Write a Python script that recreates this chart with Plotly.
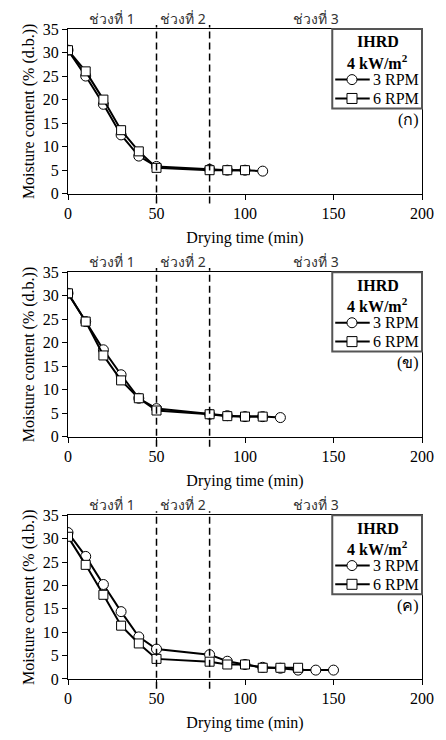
import plotly.graph_objects as go

# ---------------- data ----------------
t_a3 = [0, 10, 20, 30, 40, 50, 80, 90, 100, 110]
mc_a3 = [30.5, 25.0, 19.0, 12.5, 8.0, 5.8, 5.2, 5.0, 5.0, 4.8]
t_a6 = [0, 10, 20, 30, 40, 50, 80, 90, 100]
mc_a6 = [30.5, 26.0, 20.0, 13.5, 9.0, 5.5, 5.0, 5.0, 5.0]

t_b3 = [0, 10, 20, 30, 40, 50, 80, 90, 100, 110, 120]
mc_b3 = [30.5, 24.5, 18.5, 13.2, 8.2, 6.0, 4.8, 4.5, 4.3, 4.3, 4.1]
t_b6 = [0, 10, 20, 30, 40, 50, 80, 90, 100, 110]
mc_b6 = [30.5, 24.5, 17.3, 12.0, 8.2, 5.6, 4.8, 4.4, 4.3, 4.3]

t_c3 = [0, 10, 20, 30, 40, 50, 80, 90, 100, 110, 120, 130, 140, 150]
mc_c3 = [31.3, 26.2, 20.2, 14.4, 9.0, 6.4, 5.2, 3.8, 3.1, 2.5, 2.3, 1.9, 1.9, 1.9]
t_c6 = [0, 10, 20, 30, 40, 50, 80, 90, 100, 110, 120, 130]
mc_c6 = [30.4, 24.4, 18.0, 11.4, 7.6, 4.3, 3.7, 3.1, 3.1, 2.4, 2.4, 2.4]

series_names = ["3 RPM", "6 RPM"]
legend_title = ["<b>IHRD</b>", "<b>4 kW/m<sup>2</sup></b>"]
panel_labels = ["(ก)", "(ข)", "(ค)"]
phase_labels = ["ช่วงที่ 1", "ช่วงที่ 2", "ช่วงที่ 3"]
phase_x = [25, 65, 140]
phase_bounds = [50, 80]
x_ticks = [0, 50, 100, 150, 200]
y_ticks = [0, 5, 10, 15, 20, 25, 30, 35]

panels = [
    (t_a3, mc_a3, t_a6, mc_a6),
    (t_b3, mc_b3, t_b6, mc_b6),
    (t_c3, mc_c3, t_c6, mc_c6),
]

# ---------------- layout geometry ----------------
# page body has an 8px margin, so the figure is offset by 8px
OFF = 8
W, H = 446 - OFF, 740 - OFF
ml, mr, mt, mb = 68 - OFF, 19, 29 - OFF, 56
ph = H - mt - mb
tops_px = [29, 274, 519]
panel_h = 166
domains = []
for tp in tops_px:
    top = 1 - (tp - OFF - mt) / ph
    bot = 1 - (tp - OFF + panel_h - mt) / ph
    domains.append([max(bot, 0), min(top, 1)])

SERIF = "Liberation Serif, Times New Roman, serif"
FS = 16
fig = go.Figure()

def fy(d):
    """pixel offset below panel top -> y domain fraction"""
    return 1 - d / panel_h

def fx(px):
    return (px - 68) / 359.0

symbols = ["circle", "square"]
for i, (t3, m3, t6, m6) in enumerate(panels):
    n = "" if i == 0 else str(i + 1)
    xa = "x" + n
    ya = "y" + n
    for (tt, mm), sym, nm in zip([(t3, m3), (t6, m6)], symbols, series_names):
        fig.add_trace(go.Scatter(
            x=tt, y=mm, mode="lines+markers", name=nm, showlegend=False,
            line=dict(color="black", width=2),
            marker=dict(symbol=sym, size=10 if sym == "circle" else 9,
                        color="white", line=dict(color="black", width=1)),
            xaxis=xa, yaxis=ya))

    axis_common = dict(showline=True, linecolor="black", linewidth=1,
                       mirror=True, showgrid=False, zeroline=False,
                       ticks="outside", ticklen=5, tickcolor="black",
                       tickfont=dict(family=SERIF, size=FS, color="black"))
    fig.layout["xaxis" + n] = dict(
        axis_common, domain=[0, 1], range=[0, 200], tickvals=x_ticks,
        anchor=ya,
        title=dict(text="Drying time (min)",
                   font=dict(family=SERIF, size=FS, color="black"),
                   standoff=10))
    fig.layout["yaxis" + n] = dict(
        axis_common, domain=domains[i], range=[0, 35], tickvals=y_ticks,
        anchor=xa,
        title=dict(text="Moisture content (% (d.b.))",
                   font=dict(family=SERIF, size=FS, color="black"),
                   standoff=4))

    xd, yd = xa + " domain", ya + " domain"
    # phase boundaries
    for xb in phase_bounds:
        fig.add_shape(type="line", xref=xa, yref=yd,
                      x0=xb, x1=xb, y0=-0.06, y1=1.025,
                      line=dict(color="black", width=1.5, dash="7px,4px"))
    # phase labels
    for lbl, px in zip(phase_labels, phase_x):
        fig.add_annotation(text=lbl, x=px, y=1.0, xref=xa, yref=yd,
                           xanchor="center", yanchor="bottom",
                           showarrow=False, yshift=-1,
                           font=dict(family="Noto Sans, sans-serif", size=14,
                                     color="#333333"))

    # custom legend box
    fig.add_shape(type="rect", xref=xd, yref=yd, x0=fx(336), x1=1.0,
                  y0=fy(80), y1=1.0, fillcolor="white",
                  line=dict(color="#555555", width=2))
    for txt, d in zip(legend_title, [13, 33]):
        fig.add_annotation(text=txt, x=fx(382), y=fy(d), xref=xd, yref=yd,
                           xanchor="center", yanchor="middle",
                           showarrow=False,
                           font=dict(family=SERIF, size=FS, color="black"))
    for nm, sym, d in zip(series_names, symbols, [51, 70]):
        fig.add_shape(type="line", xref=xd, yref=yd, x0=fx(339), x1=fx(374),
                      y0=fy(d), y1=fy(d), line=dict(color="black", width=2))
        fig.add_shape(type="circle" if sym == "circle" else "rect",
                      xref=xd, yref=yd, xsizemode="pixel", ysizemode="pixel",
                      xanchor=fx(356), yanchor=fy(d), x0=-5, x1=5, y0=-5, y1=5,
                      fillcolor="white", line=dict(color="black", width=1))
        fig.add_annotation(text=nm, x=0.997, y=fy(d), xref=xd, yref=yd,
                           xanchor="right", yanchor="middle", showarrow=False,
                           font=dict(family=SERIF, size=FS, color="black"))
    # panel label
    fig.add_annotation(text=panel_labels[i], x=0.997, y=fy(92), xref=xd,
                       yref=yd, xanchor="right", yanchor="middle",
                       showarrow=False,
                       font=dict(family=SERIF, size=FS, color="black"))

fig.update_layout(width=W, height=H, margin=dict(l=ml, r=mr, t=mt, b=mb),
                  plot_bgcolor="white", paper_bgcolor="white",
                  showlegend=False)

fig.write_html("out.html")
